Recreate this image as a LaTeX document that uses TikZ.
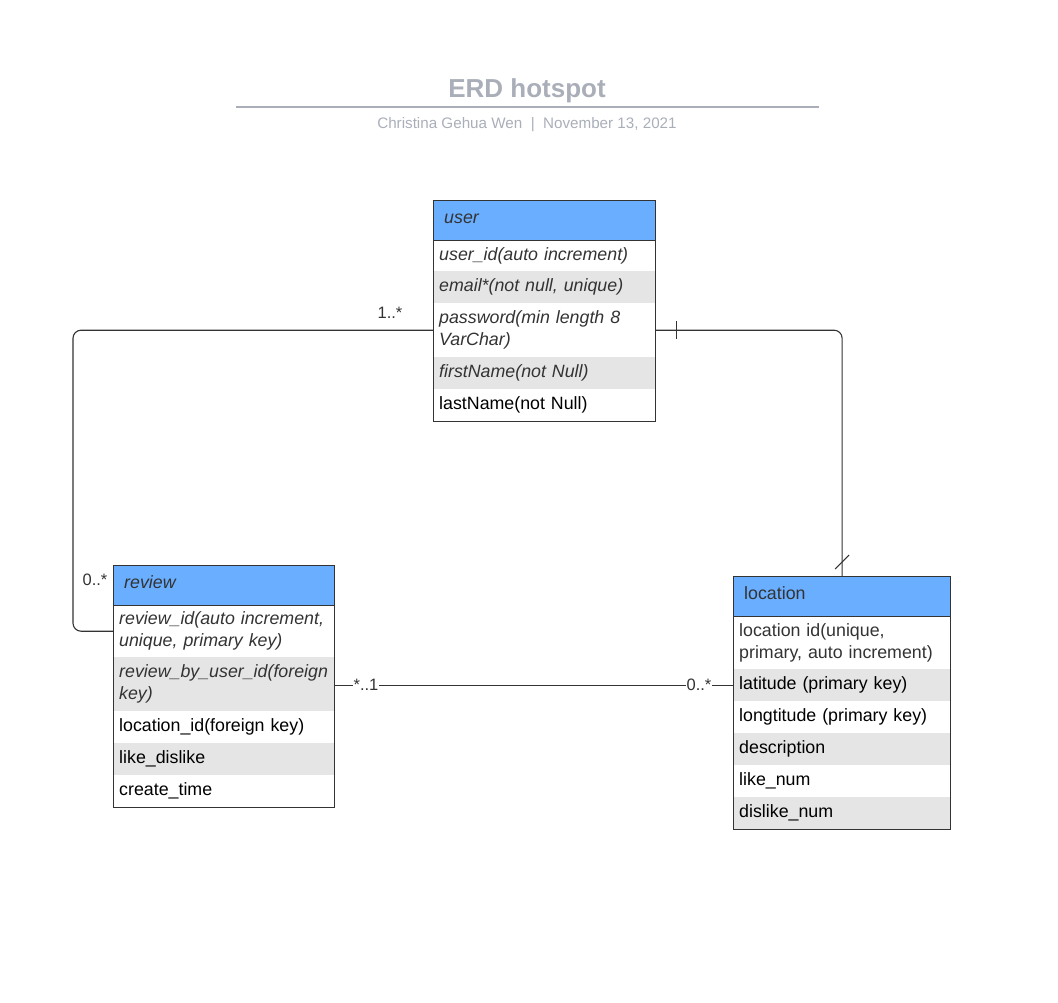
\documentclass[tikz,border=0pt]{standalone}
\usepackage{fontspec}
\setmainfont{Liberation Sans}
\usetikzlibrary{calc}
\definecolor{hdr}{HTML}{6AAEFF}
\definecolor{stripe}{HTML}{E5E5E5}
\definecolor{ink}{HTML}{333333}
\definecolor{titlegray}{HTML}{A9AEB8}
\begin{document}
\begin{tikzpicture}[x=1pt,y=-1pt,
  cell/.style={anchor=north west, inner xsep=6pt, inner ysep=0pt, align=left,
    font=\fontsize{17.8}{22}\selectfont, text=black},
  it/.style={font=\fontsize{17.8}{22}\selectfont\itshape, text=ink},
  head/.style={cell, fill=hdr, inner xsep=11pt, minimum height=40pt, text=ink,
    text height=12.5pt, text depth=6pt},
  gray/.style={fill=stripe},
  frame/.style={anchor=north west, draw=ink, line width=1.2pt, inner sep=0pt},
  conn/.style={draw=ink, line width=1.1pt, rounded corners=8pt},
  mult/.style={font=\fontsize{16.5}{18}\selectfont, text=ink, inner sep=1pt},
  utab/.style={minimum width=222pt, text width=210pt},
  uhead/.style={minimum width=222pt, text width=200pt},
  rtab/.style={minimum width=221pt, text width=209pt},
  rhead/.style={minimum width=221pt, text width=199pt},
  ltab/.style={minimum width=217pt, text width=205pt},
  lhead/.style={minimum width=217pt, text width=195pt}
]
\useasboundingbox (0,0) rectangle (1058,1003);

% title block
\node[anchor=base, text=titlegray, font=\bfseries\fontsize{26}{30}\selectfont] (title) at (527,98) {ERD hotspot};
\draw[titlegray, line width=2pt] (236,107) -- (819,107);
\node[anchor=base, text=titlegray, font=\fontsize{15.2}{18}\selectfont] (subtitle) at (527,129)
  {Christina Gehua Wen\ \ |\ \ November 13, 2021};

% user table
\node[head, uhead] (uh) at (433,200) {\itshape user};
\node[cell, utab, minimum height=31pt, it] (u1) at (433,240) {user\_id(auto increment)};
\node[cell, utab, minimum height=32pt, gray, it] (u2) at (433,271) {email*(not null, unique)};
\node[cell, utab, minimum height=54pt, it] (u3) at (433,303) {password(min length 8\\VarChar)};
\node[cell, utab, minimum height=32pt, gray, it] (u4) at (433,357) {firstName(not Null)};
\node[cell, utab, minimum height=32pt] (u5) at (433,389) {lastName(not Null)};
\node[frame, minimum width=222pt, minimum height=221pt] (user) at (433,200) {};
\draw[ink, line width=1.2pt] (uh.south west) -- (uh.south east);

% review table
\node[head, rhead] (rh) at (113,565) {\itshape review};
\node[cell, rtab, minimum height=52pt, it] (r1) at (113,605) {review\_id(auto increment,\\unique, primary key)};
\node[cell, rtab, minimum height=54pt, gray, it] (r2) at (113,657) {review\_by\_user\_id(foreign\\key)};
\node[cell, rtab, minimum height=32pt] (r3) at (113,711) {location\_id(foreign key)};
\node[cell, rtab, minimum height=32pt, gray] (r4) at (113,743) {like\_dislike};
\node[cell, rtab, minimum height=32pt] (r5) at (113,775) {create\_time};
\node[frame, minimum width=221pt, minimum height=242pt] (review) at (113,565) {};
\draw[ink, line width=1.2pt] (rh.south west) -- (rh.south east);

% location table
\node[head, lhead, inner xsep=10pt] (lh) at (733,576) {location};
\node[cell, ltab, minimum height=53pt, text=ink] (l1) at (733,616) {location id(unique,\\primary, auto increment)};
\node[cell, ltab, minimum height=32pt, gray] (l2) at (733,669) {latitude (primary key)};
\node[cell, ltab, minimum height=32pt] (l3) at (733,701) {longtitude (primary key)};
\node[cell, ltab, minimum height=32pt, gray] (l4) at (733,733) {description};
\node[cell, ltab, minimum height=32pt] (l5) at (733,765) {like\_num};
\node[cell, ltab, minimum height=32pt, gray] (l6) at (733,797) {dislike\_num};
\node[frame, minimum width=217pt, minimum height=253pt] (location) at (733,576) {};
\draw[ink, line width=1.2pt] (lh.south west) -- (lh.south east);

% user -- review
\coordinate (ucornerL) at ($(u3.west)+(-360,0)$);
\draw[conn] (u3.west) -- (ucornerL) |- (r1.west);
\node[mult] (m1) at (390,313) {1..*};
\node[mult] (m2) at (95,580) {0..*};

% user -- location (one to one)
\draw[conn] (u3.east) -| (location.north);
\draw[ink, line width=1pt] ($(u3.east)+(21,-9)$) -- ++(0,18);
\draw[ink, line width=1pt] ($(location.north)+(-7,-7)$) -- ++(14,-14);

% review -- location
\draw[conn] (l2.west -| r2.east) -- (l2.west);
\node[mult, fill=white] (m3) at (366,685) {*..1};
\node[mult, fill=white] (m4) at (699,685) {0..*};
\end{tikzpicture}
\end{document}
